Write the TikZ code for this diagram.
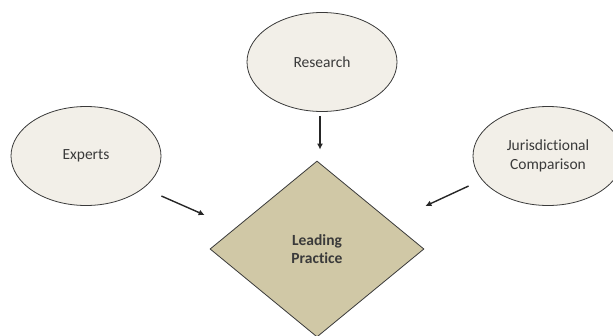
\documentclass[tikz,border=0pt]{standalone}
\usepackage{fontspec}
\setmainfont{Carlito}[Ligatures={NoCommon}]
\usepackage{tikz}
\usetikzlibrary{positioning,shapes.geometric,arrows.meta}
\definecolor{oval}{RGB}{242,239,232}
\definecolor{khaki}{RGB}{208,200,166}
\definecolor{ink}{RGB}{58,58,58}

\begin{document}
\begin{tikzpicture}[x=1pt,y=-1pt,
    source/.style={ellipse,draw=ink,line width=0.8pt,fill=oval,text=ink,minimum width=150pt,minimum height=99pt,inner sep=0pt,align=center,font=\fontsize{15.5}{19}\selectfont},
    goal/.style={diamond,draw=ink,line width=0.8pt,fill=khaki,text=ink,aspect=1.216,minimum width=214pt,minimum height=176pt,inner sep=0pt,align=center,font=\fontsize{15.5}{18}\selectfont\bfseries},
    feed/.style={draw=black!85,line width=1.4pt,-{Latex[length=6pt,width=6pt]}}]
  \useasboundingbox (0,0) rectangle (613,335);
  \node[source](research) at (322,62){Research};
  \node[source](experts) at (86,156){Experts};
  \node[source](juris) at (548,156){Jurisdictional\\Comparison};
  \node[goal](lead) at (317,249){Leading\\Practice};
  \draw[feed] ([xshift=-2pt,yshift=-4pt]research.south) -- ([xshift=3pt,yshift=11pt]lead.north);
  \draw[feed] ([yshift=-40pt]experts.east) -- ([xshift=-5pt,yshift=34pt]lead.west);
  \draw[feed] ([xshift=-4pt,yshift=-30pt]juris.west) -- ([xshift=1pt,yshift=43pt]lead.east);
\end{tikzpicture}
\end{document}
